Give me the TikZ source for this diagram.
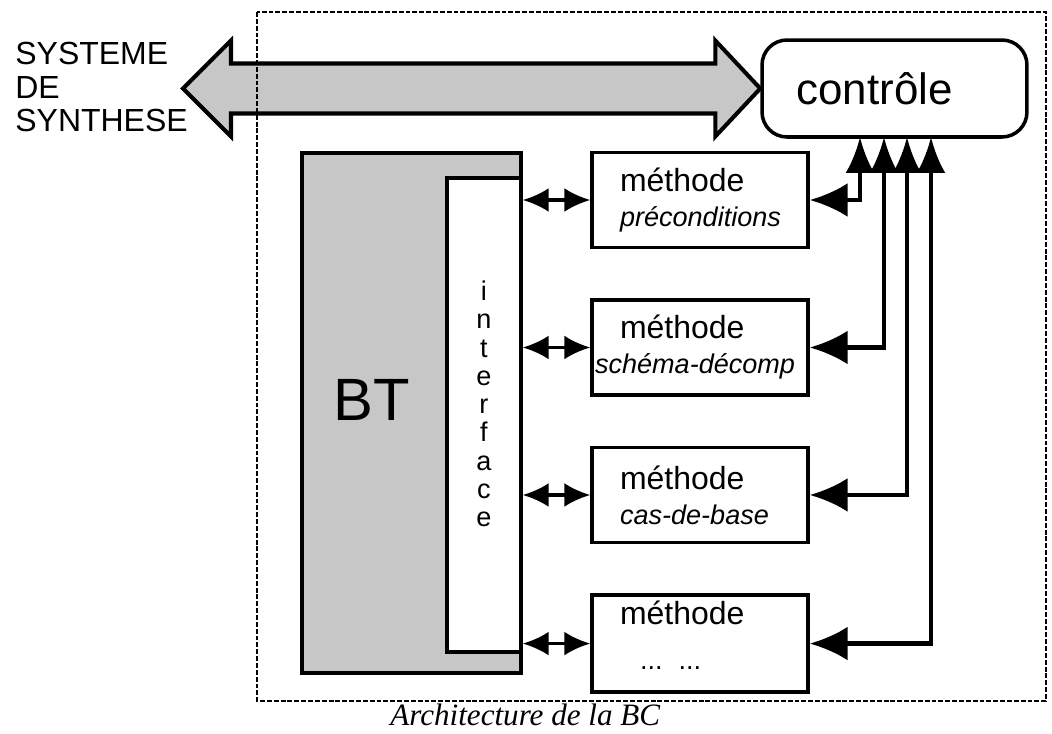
\documentclass[tikz,border=0pt]{standalone}
\usepackage{fontspec}
\setmainfont{Liberation Sans}
\newfontfamily\legende{Liberation Serif}
\newcommand{\sousnom}{\fontsize{15.4}{19.9}\selectfont\itshape}
\usetikzlibrary{calc}
\usetikzlibrary{arrows.meta, positioning}

\begin{document}
\begin{tikzpicture}[
    x=0.02cm, y=-0.02cm,
    node distance=0.98cm and 0.8cm,
    methode/.style={
      rectangle,
      draw,
      line width=2pt,
      fill=white,
      minimum height=1.9cm,
      text width=3.2cm,
      inner xsep=0.56cm,
      align=left,
      font=\fontsize{18.2}{19.9}\selectfont
    },
    controle/.style={
      rectangle,
      rounded corners=0.5cm,
      draw,
      line width=2pt,
      minimum width=5.3cm,
      minimum height=1.94cm,
      font=\fontsize{25}{30}\selectfont
    },
    base/.style={
      rectangle,
      draw,
      line width=2pt,
      fill=black!22,
      minimum width=4.38cm,
      minimum height=10.4cm
    },
    iface/.style={
      rectangle,
      draw,
      line width=2pt,
      fill=white,
      minimum width=1.48cm,
      minimum height=9.48cm
    },
    grosse/.style={
      draw,
      line width=2.3pt,
      fill=black!22,
      line join=miter
    },
    biarrow/.style={
      {Latex[length=0.52cm,width=0.48cm]}-{Latex[length=0.52cm,width=0.48cm]},
      line width=1.8pt
    },
    lien/.style={
      {Latex[length=0.76cm,width=0.68cm]}-{Latex[length=0.72cm,width=0.58cm]},
      line width=2.5pt
    },
    cadre/.style={
      draw,
      line width=1.2pt,
      dash pattern=on 2.8pt off 1.1pt
    }
  ]
  \useasboundingbox (0,0) rectangle (1052,734);

  % Les noeuds
  \node[anchor=west, align=left, inner sep=0pt, font=\fontsize{18.2}{19.3}\selectfont] (sys) at (15,87) {SYSTEME\\DE\\SYNTHESE};
  \node[controle] (ctrl) at (894.5,88.5) {\hspace*{-0.8cm}contrôle};

  \node[base] (bt) at (411.5,413) {};
  \node[font=\fontsize{34}{40}\selectfont] (bttxt) at (372,400) {BT};
  \node[iface] (interface) at (484,415) {};
  \node[align=center, inner sep=0pt, font=\fontsize{15.4}{16.1}\selectfont] (ifacetxt) at (484,404) {i\\n\\t\\e\\r\\f\\a\\c\\e};

  \node[methode] (m1) at (700,200) {méthode\\{\sousnom préconditions}};
  \node[methode, below=of m1] (m2) {méthode\\\hspace*{-0.5cm}\mbox{\sousnom schéma-décomp}};
  \node[methode, below=of m2] (m3) {méthode\\\mbox{\sousnom cas-de-base}};
  \node[methode, below=of m3] (m4) {méthode\\[0.2cm]\hspace*{0.4cm}{\fontsize{15.4}{19.9}\selectfont ... ...}\rule[-0.34cm]{0pt}{0pt}};

  % Les points d'arrivee sous le controle
  \coordinate (gauche) at (183,88.5);
  \coordinate (c1) at (860,137);
  \coordinate (c2) at (884,137);
  \coordinate (c3) at (907,137);
  \coordinate (c4) at (931,137);

  % La grosse fleche
  \draw[grosse] (gauche) -- ++(48,-48) -- ++(0,23) -- ($(ctrl.west)+(-45,-25)$) -- ++(0,-23)
    -- (ctrl.west) -- ++(-45,48) -- ++(0,-23) -- ($(gauche)+(48,25)$) -- ++(0,23) -- cycle;

  % Les fleches
  \draw[biarrow] (interface.east |- m1.west) -- (m1.west);
  \draw[biarrow] (interface.east |- m2.west) -- (m2.west);
  \draw[biarrow] (interface.east |- m3.west) -- (m3.west);
  \draw[biarrow] (interface.east |- m4.west) -- (m4.west);

  \draw[lien] (m1.east) -| (c1);
  \draw[lien] (m2.east) -| (c2);
  \draw[lien] (m3.east) -| (c3);
  \draw[lien] (m4.east) -| (c4);

  % Cadre et titre
  \draw[cadre] (257,12) rectangle (1046,701);
  \node[anchor=base west, inner sep=0pt, font=\legende\itshape\fontsize{17.7}{20}\selectfont] (titre) at (390,725) {Architecture de la BC};

\end{tikzpicture}
\end{document}
